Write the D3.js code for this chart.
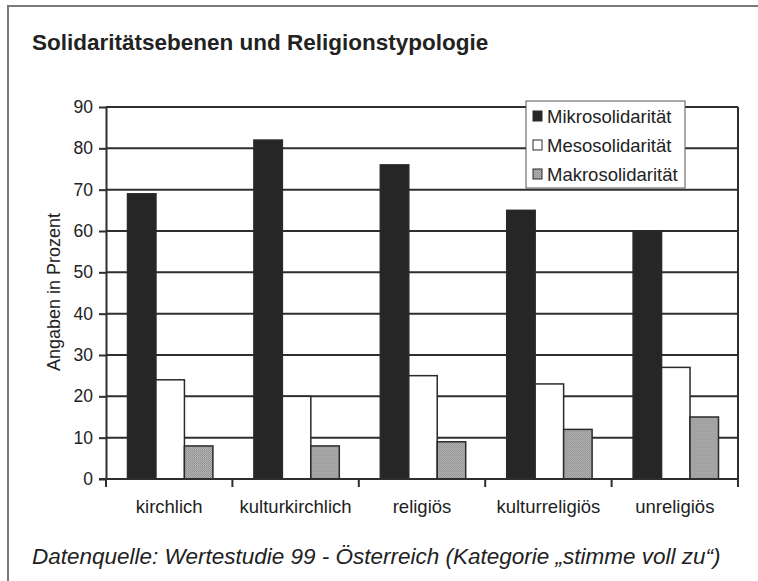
<!DOCTYPE html>
<html>
<head>
<meta charset="utf-8">
<script src="https://cdn.jsdelivr.net/npm/d3@7"></script>
<style>
  body { margin: 0; background: #fff; }
  svg text { font-family: "Liberation Sans", Arial, sans-serif; fill: #222; }
</style>
</head>
<body>
<svg width="758" height="581"></svg>
<script>
// data
const categories = ['kirchlich', 'kulturkirchlich', 'religiös', 'kulturreligiös', 'unreligiös'];
const seriesNames = ['Mikrosolidarität', 'Mesosolidarität', 'Makrosolidarität'];
const mikro = [69, 82, 76, 65, 60];
const meso = [24, 20, 25, 23, 27];
const makro = [8, 8, 9, 12, 15];
const yTicks = [0, 10, 20, 30, 40, 50, 60, 70, 80, 90];

const seriesValues = [mikro, meso, makro];
const fills = ['#262626', '#ffffff', 'url(#stipple)'];

let svg = d3.select('svg'),
  margin = { top: 107, right: 20, bottom: 102, left: 106 },
  width = 738 - margin.left,
  height = 479 - margin.top;

// stipple pattern for the grey bars
let defs = svg.append('defs');
let pat = defs.append('pattern')
  .attr('id', 'stipple')
  .attr('width', 2).attr('height', 2)
  .attr('patternUnits', 'userSpaceOnUse');
pat.append('rect').attr('width', 2).attr('height', 2).attr('fill', '#b4b4b4');
pat.append('rect').attr('width', 1).attr('height', 1).attr('fill', '#8c8c8c');
pat.append('rect').attr('x', 1).attr('y', 1).attr('width', 1).attr('height', 1).attr('fill', '#9a9a9a');

// outer frame
svg.append('path')
  .attr('d', 'M8,581 V6 H758')
  .attr('fill', 'none')
  .attr('stroke', '#7a7a7a')
  .attr('stroke-width', 2);

// title
svg.append('text')
  .attr('x', 32).attr('y', 50)
  .attr('font-size', 22.5).attr('font-weight', 'bold')
  .text('Solidaritätsebenen und Religionstypologie');

let g = svg.append('g').attr('transform', `translate(${margin.left}, ${margin.top})`);

let x0 = d3.scaleBand().domain(categories).range([0, width]).paddingInner(0).paddingOuter(0);
let x1 = d3.scaleBand().domain(seriesNames).range([21.5, x0.bandwidth() - 19.5]);
let y = d3.scaleLinear().domain([0, 90]).range([height, 0]);

// gridlines
g.append('g')
  .selectAll('line')
  .data(yTicks.filter(d => d > 0))
  .join('line')
  .attr('x1', 0).attr('x2', width)
  .attr('y1', d => y(d)).attr('y2', d => y(d))
  .attr('stroke', '#2e2e2e').attr('stroke-width', 2);

// right border
g.append('line')
  .attr('x1', width).attr('x2', width)
  .attr('y1', 0).attr('y2', height)
  .attr('stroke', '#2e2e2e').attr('stroke-width', 2);

// bars
let groups = g.append('g')
  .selectAll('g')
  .data(categories)
  .join('g')
  .attr('transform', d => `translate(${x0(d)},0)`);

groups.selectAll('rect')
  .data((d, i) => seriesNames.map((s, j) => ({ key: s, idx: j, value: seriesValues[j][i] })))
  .join('rect')
  .attr('x', d => x1(d.key))
  .attr('width', x1.bandwidth())
  .attr('y', d => y(d.value))
  .attr('height', d => y(0) - y(d.value))
  .attr('fill', d => fills[d.idx])
  .attr('stroke', '#2a2a2a')
  .attr('stroke-width', 1.5);

// y axis
let yAxis = g.append('g')
  .call(d3.axisLeft(y).tickValues(yTicks).tickSize(7).tickPadding(6).tickSizeOuter(0));
yAxis.select('.domain').attr('stroke', '#2e2e2e').attr('stroke-width', 2);
yAxis.selectAll('.tick line').attr('stroke', '#2e2e2e').attr('stroke-width', 2);
yAxis.selectAll('text').attr('font-size', 17.5).attr('fill', '#222')
  .attr('font-family', '"Liberation Sans", Arial, sans-serif');

// x axis: ticks at category boundaries
let xAxis = g.append('g').attr('transform', `translate(0,${height})`);
xAxis.append('line')
  .attr('x1', -7).attr('x2', width)
  .attr('stroke', '#2e2e2e').attr('stroke-width', 2);
xAxis.selectAll('line.tk')
  .data(categories.map(c => x0(c)).concat([width]))
  .join('line')
  .attr('class', 'tk')
  .attr('x1', d => d).attr('x2', d => d)
  .attr('y1', 0).attr('y2', 8)
  .attr('stroke', '#2e2e2e').attr('stroke-width', 2);
xAxis.selectAll('text')
  .data(categories)
  .join('text')
  .attr('x', d => x0(d) + x0.bandwidth() / 2)
  .attr('y', 34)
  .attr('text-anchor', 'middle')
  .attr('font-size', 18.5)
  .text(d => d);

// y axis title
svg.append('text')
  .attr('transform', 'translate(60,292) rotate(-90)')
  .attr('text-anchor', 'middle')
  .attr('font-size', 18)
  .text('Angaben in Prozent');

// legend
let legend = svg.append('g').attr('transform', 'translate(526,101)');
legend.append('rect')
  .attr('width', 159).attr('height', 87)
  .attr('fill', '#fff')
  .attr('stroke', '#555').attr('stroke-width', 1);
let items = legend.selectAll('g.item')
  .data(seriesNames)
  .join('g')
  .attr('class', 'item')
  .attr('transform', (d, i) => `translate(7,${15 + i * 29})`);
items.append('rect')
  .attr('y', -5).attr('width', 9).attr('height', 10)
  .attr('fill', (d, i) => fills[i])
  .attr('stroke', '#2a2a2a').attr('stroke-width', 1);
items.append('text')
  .attr('x', 14).attr('y', 6.5)
  .attr('font-size', 18.5)
  .text(d => d);

// source note
svg.append('text')
  .attr('x', 32).attr('y', 564)
  .attr('font-size', 22.5).attr('font-style', 'italic')
  .attr('fill', '#333')
  .text('Datenquelle: Wertestudie 99 - Österreich (Kategorie „stimme voll zu“)');
</script>
</body>
</html>
